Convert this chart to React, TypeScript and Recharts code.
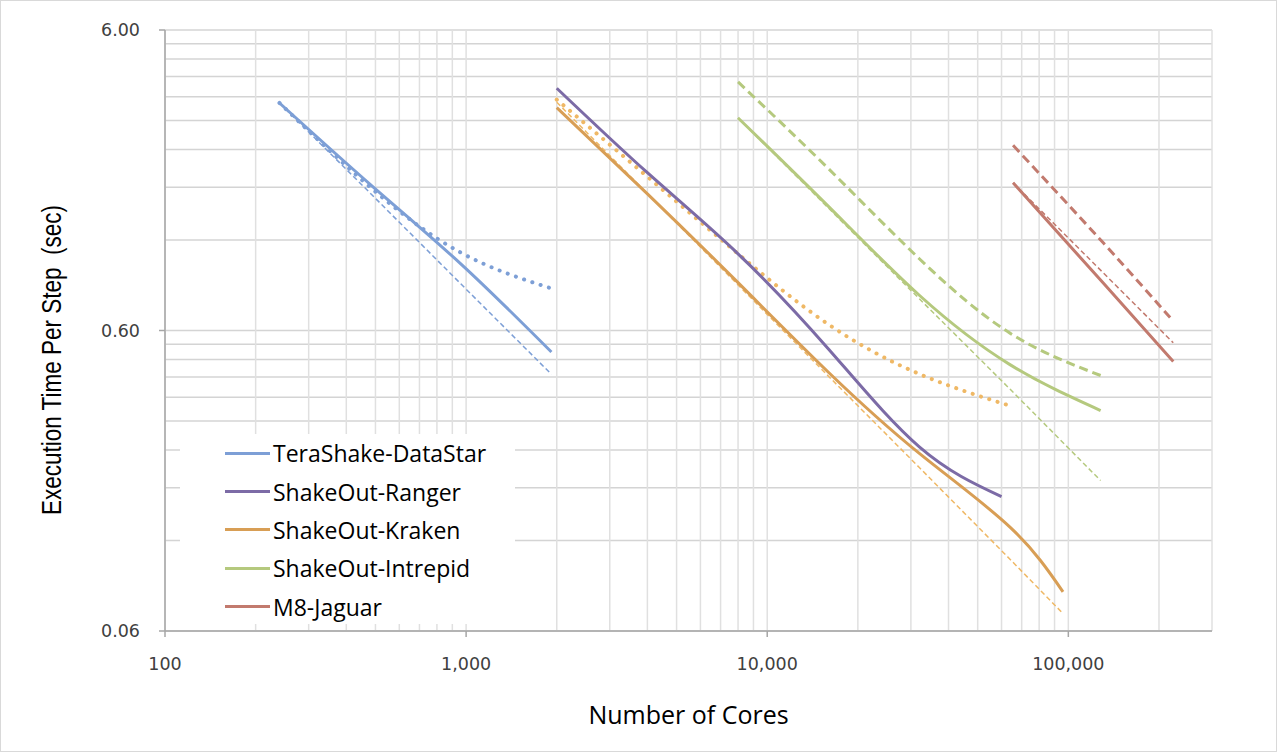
import React from 'react';
import { LineChart, Line, XAxis, YAxis, CartesianGrid, Legend, Label } from 'recharts';

// axis grid values (log scales, Excel-style minor gridlines)
const xGridValues = [
  100, 200, 300, 400, 500, 600, 700, 800, 900,
  1000, 2000, 3000, 4000, 5000, 6000, 7000, 8000, 9000,
  10000, 20000, 30000, 40000, 50000, 60000, 70000, 80000, 90000,
  100000, 200000, 300000,
];
const xMajorTicks = [100, 1000, 10000, 100000];
const yGridValues = [
  0.06, 0.12, 0.18, 0.24, 0.3, 0.36, 0.42, 0.48, 0.54,
  0.6, 1.2, 1.8, 2.4, 3, 3.6, 4.2, 4.8, 5.4, 6,
];
const yMajorTicks = [0.06, 0.6, 6];

// TeraShake on DataStar
const dataStarCores = [240, 480, 960, 1920];
const dataStarTime = [3.43, 1.84, 1.0, 0.509];
const dataStarDotted = [3.43, 1.8, 1.09, 0.828];
const dataStarIdeal = [3.43, 1.72, 0.858, 0.429];

// ShakeOut on Ranger
const rangerCores = [2000, 4000, 8000, 16000, 32000, 60000];
const rangerTime = [3.84, 2.01, 1.08, 0.52, 0.246, 0.168];

// ShakeOut on Kraken
const krakenCores = [2000, 4000, 8000, 16000, 32000, 64000, 96000];
const krakenTime = [3.31, 1.71, 0.866, 0.435, 0.234, 0.133, 0.081];
const krakenDottedCores = [2000, 4000, 8000, 16000, 32000, 64000];
const krakenDotted = [3.52, 1.95, 1.08, 0.628, 0.43, 0.337];
const krakenIdeal = [3.45, 1.713, 0.851, 0.422, 0.21, 0.104, 0.0686];

// ShakeOut on Intrepid
const intrepidCores = [8000, 16000, 32000, 64000, 128000];
const intrepidTime = [3.06, 1.55, 0.786, 0.462, 0.325];
const intrepidDashed = [4.03, 2.07, 1.04, 0.588, 0.425];
const intrepidIdeal = [3.06, 1.53, 0.765, 0.383, 0.19];

// M8 on Jaguar
const jaguarCores = [65536, 131072, 223074];
const jaguarTime = [1.86, 0.86, 0.473];
const jaguarDashed = [2.48, 1.17, 0.645];
const jaguarIdeal = [1.86, 0.93, 0.546];

const BLUE = '#7d9fd6';
const PURPLE = '#7c6ba6';
const ORANGE = '#d89e55';
const ORANGE_LIGHT = '#efb865';
const GREEN = '#b5c97e';
const RED = '#c27a6e';

const toPoints = (xs: number[], ys: number[]) => xs.map((x, i) => ({ x, y: ys[i] }));

type Kind = 'solid' | 'dotted' | 'dashed' | 'ideal';

const series: { name: string; kind: Kind; color: string; points: { x: number; y: number }[] }[] = [
  { name: 'DataStar ideal', kind: 'ideal', color: BLUE, points: toPoints(dataStarCores, dataStarIdeal) },
  { name: 'Kraken ideal', kind: 'ideal', color: ORANGE_LIGHT, points: toPoints(krakenCores, krakenIdeal) },
  { name: 'Intrepid ideal', kind: 'ideal', color: GREEN, points: toPoints(intrepidCores, intrepidIdeal) },
  { name: 'Jaguar ideal', kind: 'ideal', color: RED, points: toPoints(jaguarCores, jaguarIdeal) },
  { name: 'DataStar dotted', kind: 'dotted', color: BLUE, points: toPoints(dataStarCores, dataStarDotted) },
  { name: 'Kraken dotted', kind: 'dotted', color: ORANGE_LIGHT, points: toPoints(krakenDottedCores, krakenDotted) },
  { name: 'Intrepid dashed', kind: 'dashed', color: GREEN, points: toPoints(intrepidCores, intrepidDashed) },
  { name: 'Jaguar dashed', kind: 'dashed', color: RED, points: toPoints(jaguarCores, jaguarDashed) },
  { name: 'TeraShake-DataStar', kind: 'solid', color: BLUE, points: toPoints(dataStarCores, dataStarTime) },
  { name: 'ShakeOut-Ranger', kind: 'solid', color: PURPLE, points: toPoints(rangerCores, rangerTime) },
  { name: 'ShakeOut-Kraken', kind: 'solid', color: ORANGE, points: toPoints(krakenCores, krakenTime) },
  { name: 'ShakeOut-Intrepid', kind: 'solid', color: GREEN, points: toPoints(intrepidCores, intrepidTime) },
  { name: 'M8-Jaguar', kind: 'solid', color: RED, points: toPoints(jaguarCores, jaguarTime) },
];

const legendItems = series.filter((s) => s.kind === 'solid');

const lineStyle = (kind: Kind) => {
  if (kind === 'dotted') return { strokeWidth: 4, strokeDasharray: '0.1 8.6', strokeLinecap: 'round' as const };
  if (kind === 'dashed') return { strokeWidth: 3, strokeDasharray: '9 5' };
  if (kind === 'ideal') return { strokeWidth: 1.5, strokeDasharray: '5 3' };
  return { strokeWidth: 3 };
};

const AXIS_GRAY = '#a6a6a6';
const tickFont = { fontFamily: '"DejaVu Sans", Verdana, sans-serif', fontSize: 17.5, fill: '#404040' };

const XTick = (props: any) => {
  const { x, y, payload } = props;
  if (!xMajorTicks.includes(payload.value)) return <g />;
  return (
    <g>
      <line x1={x} x2={x} y1={y - 8} y2={y - 2} stroke={AXIS_GRAY} strokeWidth={1.5} />
      <text x={x} y={y + 31} textAnchor="middle" {...tickFont}>
        {payload.value.toLocaleString('en-US')}
      </text>
    </g>
  );
};

const YTick = (props: any) => {
  const { x, y, payload } = props;
  if (!yMajorTicks.includes(payload.value)) return <g />;
  return (
    <g>
      <line x1={x + 2} x2={x + 8} y1={y} y2={y} stroke={AXIS_GRAY} strokeWidth={1.5} />
      <text x={x - 17} y={y} textAnchor="end" dominantBaseline="central" {...tickFont}>
        {payload.value.toFixed(2)}
      </text>
    </g>
  );
};

const LegendBox = () => (
  <div style={{ background: '#fff', width: '100%', height: '100%' }}>
    {legendItems.map((item) => (
      <div key={item.name} style={{ display: 'flex', alignItems: 'center', height: 38.4 }}>
        <div style={{ marginLeft: 45, width: 45, height: 3, background: item.color }} />
        <span
          style={{
            marginLeft: 3,
            fontFamily: '"Open Sans", sans-serif',
            fontSize: 23,
            color: '#000',
            whiteSpace: 'nowrap',
          }}
        >
          {item.name}
        </span>
      </div>
    ))}
  </div>
);

const App = () => (
  <div
    style={{
      position: 'absolute',
      left: 0,
      top: 0,
      width: 1277,
      height: 752,
      background: '#fff',
      outline: '1px solid #d9d9d9',
      outlineOffset: -1,
    }}
  >
    <LineChart width={1277} height={752} margin={{ top: 30, right: 65, bottom: 0, left: 0 }}>
      <CartesianGrid vertical={false} stroke="#d4d4d4" strokeWidth={1.5} />
      <CartesianGrid horizontal={false} stroke="#e0e0e0" strokeWidth={1.5} />
      <XAxis
        dataKey="x"
        type="number"
        scale="log"
        domain={[100, 300000]}
        ticks={xGridValues}
        interval={0}
        allowDataOverflow
        height={121}
        tickLine={false}
        tickSize={6}
        tickMargin={2}
        axisLine={{ stroke: AXIS_GRAY, strokeWidth: 1.5 }}
        tick={XTick}
      >
        <Label
          content={() => (
            <text
              x={688.5}
              y={714}
              textAnchor="middle"
              dominantBaseline="central"
              fontFamily='"Open Sans", sans-serif'
              fontSize={25}
              fill="#000"
            >
              Number of Cores
            </text>
          )}
        />
      </XAxis>
      <YAxis
        type="number"
        scale="log"
        domain={[0.06, 6]}
        ticks={yGridValues}
        interval={0}
        allowDataOverflow
        width={165}
        tickLine={false}
        tickSize={6}
        tickMargin={2}
        axisLine={{ stroke: AXIS_GRAY, strokeWidth: 1.5 }}
        tick={YTick}
      >
        <Label
          content={() => (
            <text
              x={52}
              y={360}
              transform="rotate(-90 52 360)"
              textAnchor="middle"
              dominantBaseline="central"
              fontFamily='"Liberation Sans Narrow", "Liberation Sans", Arial, sans-serif'
              fontSize={27}
              textLength={310}
              lengthAdjust="spacingAndGlyphs"
              fill="#000"
              style={{ whiteSpace: 'pre' }}
            >
              Execution Time Per Step  (sec)
            </text>
          )}
        />
      </YAxis>
      {series.map((s) => (
        <Line
          key={s.name}
          name={s.name}
          data={s.points}
          dataKey="y"
          type={s.kind === 'ideal' ? 'linear' : 'natural'}
          stroke={s.color}
          dot={false}
          activeDot={false}
          legendType="none"
          isAnimationActive={false}
          {...lineStyle(s.kind)}
        />
      ))}
      <Legend
        layout="horizontal"
        verticalAlign="middle"
        align="center"
        wrapperStyle={{ left: 180, top: 434, width: 335, height: 190 }}
        content={() => <LegendBox />}
      />
    </LineChart>
  </div>
);

export default App;
